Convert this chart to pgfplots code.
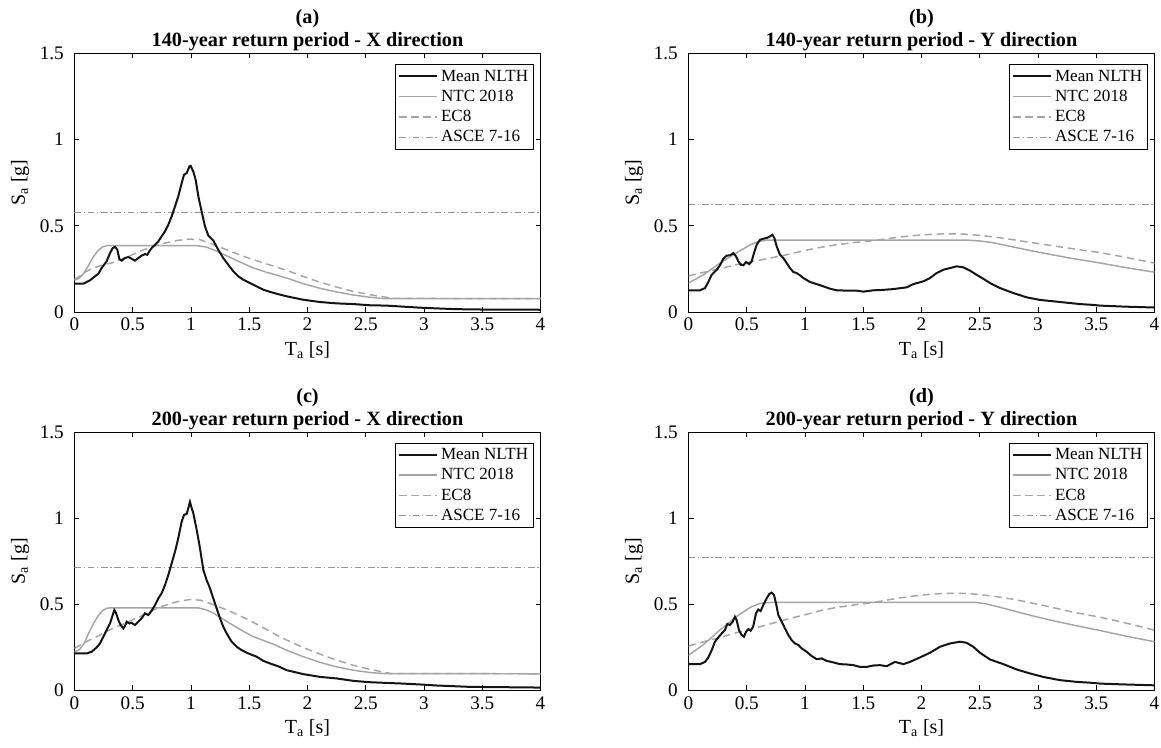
\documentclass[border=0pt]{standalone}
\usepackage{pgfplots}
\pgfplotsset{compat=1.18}
\usepgfplotslibrary{groupplots}
\usepackage{fontspec}
\setmainfont{Liberation Serif}
\definecolor{nlth}{RGB}{20,20,20}
\definecolor{ntc}{RGB}{165,165,165}
\definecolor{ecc}{RGB}{165,165,165}
\definecolor{asce}{RGB}{150,150,150}
\pgfplotsset{
  myax/.style={
    scale only axis, width=349.5pt, height=193.875pt,
    xmin=0, xmax=4, ymin=0, ymax=1.5,
    xtick={0,0.5,1,1.5,2,2.5,3,3.5,4}, ytick={0,0.5,1,1.5},
    tick align=inside, xtick pos=both, ytick pos=both,
    xticklabel pos=lower, yticklabel pos=left,
    major tick length=3.75pt,
    axis line style={line width=0.6pt, black},
    tick style={line width=0.6pt, black},
    /pgf/number format/assume math mode=true,
    every tick label/.append style={font=\fontsize{14.4}{16}\selectfont},
    yticklabel style={xshift=-4.5pt},
    xticklabel style={yshift=-1pt},
    label style={font=\fontsize{15}{17}\selectfont},
    xlabel style={yshift=-1pt},
    ylabel style={yshift=1pt},
    xlabel={T\textsubscript{a} [s]}, ylabel={S\textsubscript{a} [g]},
    title style={font=\bfseries\fontsize{15.2}{17.5}\selectfont, align=center, inner sep=0pt, yshift=-4.5pt},
    legend style={at={(1,1)}, anchor=north east, xshift=-5pt, yshift=-8pt,
      font=\fontsize{12.8}{15}\selectfont, draw=black, line width=0.6pt,
      cells={anchor=west}, inner sep=2pt, row sep=1.2pt},
    legend image code/.code={\draw[#1] (0cm,0cm) -- (1.0cm,0cm);},
    reverse legend,
  },
  nl/.style={color=nlth, line width=1.5pt, no markers},
  nt/.style={color=ntc, line width=1.1pt, no markers},
  ec/.style={color=ecc, line width=1.1pt, no markers, dash pattern=on 5.5pt off 3.5pt},
  as/.style={color=asce, line width=0.8pt, no markers, dash pattern=on 5pt off 2pt on 1pt off 2pt},
}
\begin{document}
\begin{tikzpicture}
\begin{groupplot}[group style={group size=2 by 2, horizontal sep=111pt, vertical sep=90pt}, myax]
% ---------------- (a)
\nextgroupplot[title={(a)\\140-year return period - X direction}]
\addplot[as] coordinates {(0,0.578) (4,0.578)};
\addplot[ec] coordinates {(0,0.19) (0.05,0.21) (0.1,0.235) (0.16,0.255) (0.25,0.274) (0.33,0.287) (0.45,0.318) (0.59,0.36) (0.73,0.393) (0.88,0.415) (0.99,0.423) (1.08,0.419) (1.19,0.392) (1.31,0.36) (1.48,0.316) (1.6,0.29) (1.7,0.268) (1.82,0.242) (1.96,0.207) (2.11,0.172) (2.25,0.145) (2.39,0.12) (2.54,0.10) (2.68,0.085) (2.72,0.079) (4,0.077)};
\addplot[nt] coordinates {(0,0.185) (0.04,0.195) (0.08,0.225) (0.12,0.27) (0.16,0.318) (0.2,0.355) (0.24,0.377) (0.28,0.385) (1.05,0.385) (1.13,0.377) (1.19,0.362) (1.3,0.328) (1.42,0.29) (1.53,0.257) (1.65,0.23) (1.72,0.217) (1.82,0.197) (1.96,0.165) (2.1,0.139) (2.25,0.116) (2.39,0.099) (2.53,0.086) (2.65,0.078) (2.7,0.077) (4,0.077)};
\addplot[nl] coordinates {(0,0.164) (0.076,0.164) (0.133,0.184) (0.176,0.207) (0.205,0.222) (0.233,0.255) (0.276,0.294) (0.305,0.342) (0.328,0.371) (0.348,0.378) (0.368,0.361) (0.385,0.307) (0.405,0.298) (0.433,0.313) (0.462,0.319) (0.49,0.309) (0.519,0.298) (0.548,0.313) (0.576,0.327) (0.605,0.336) (0.625,0.332) (0.642,0.352) (0.662,0.371) (0.691,0.39) (0.72,0.41) (0.748,0.439) (0.777,0.468) (0.805,0.506) (0.834,0.555) (0.863,0.613) (0.891,0.671) (0.92,0.748) (0.94,0.796) (0.963,0.806) (0.986,0.844) (0.997,0.848) (1.02,0.815) (1.04,0.767) (1.063,0.671) (1.091,0.584) (1.12,0.497) (1.149,0.443) (1.191,0.415) (1.234,0.361) (1.277,0.313) (1.32,0.274) (1.363,0.236) (1.406,0.207) (1.449,0.187) (1.506,0.168) (1.563,0.149) (1.621,0.129) (1.678,0.117) (1.75,0.103) (1.821,0.091) (1.964,0.071) (2.107,0.058) (2.25,0.050) (2.393,0.046) (2.536,0.039) (2.679,0.037) (2.823,0.031) (2.966,0.025) (3.109,0.021) (3.252,0.017) (3.395,0.015) (3.566,0.014) (4,0.013)};
\legend{ASCE 7-16, EC8, NTC 2018, Mean NLTH}
% ---------------- (b)
\nextgroupplot[title={(b)\\140-year return period - Y direction}]
\addplot[as] coordinates {(0,0.622) (4,0.622)};
\addplot[ec] coordinates {(0,0.21) (0.13,0.23) (0.27,0.251) (0.41,0.274) (0.56,0.294) (0.7,0.313) (0.84,0.332) (0.99,0.356) (1.13,0.375) (1.27,0.39) (1.42,0.403) (1.56,0.412) (1.69,0.424) (1.79,0.433) (1.93,0.443) (2.07,0.45) (2.22,0.454) (2.36,0.452) (2.5,0.445) (2.65,0.433) (2.79,0.419) (2.93,0.404) (3.07,0.39) (3.22,0.375) (3.36,0.361) (3.53,0.345) (3.7,0.324) (3.85,0.304) (4,0.284)};
\addplot[nt] coordinates {(0,0.168) (0.13,0.216) (0.27,0.284) (0.41,0.342) (0.53,0.39) (0.61,0.411) (0.68,0.417) (2.4,0.417) (2.5,0.412) (2.6,0.404) (2.79,0.377) (2.96,0.353) (3.13,0.331) (3.3,0.31) (3.52,0.286) (3.75,0.258) (4,0.231)};
\addplot[nl] coordinates {(0,0.126) (0.099,0.126) (0.142,0.139) (0.17,0.174) (0.199,0.216) (0.242,0.245) (0.27,0.271) (0.299,0.309) (0.328,0.327) (0.356,0.329) (0.385,0.342) (0.408,0.323) (0.428,0.294) (0.448,0.274) (0.471,0.271) (0.494,0.29) (0.522,0.278) (0.542,0.294) (0.562,0.342) (0.585,0.39) (0.614,0.419) (0.642,0.425) (0.671,0.429) (0.7,0.439) (0.72,0.448) (0.737,0.429) (0.757,0.381) (0.785,0.332) (0.814,0.313) (0.843,0.284) (0.871,0.255) (0.9,0.232) (0.928,0.226) (0.957,0.213) (0.986,0.197) (1.043,0.174) (1.1,0.162) (1.157,0.149) (1.215,0.135) (1.272,0.126) (1.358,0.124) (1.444,0.124) (1.5,0.118) (1.587,0.126) (1.644,0.127) (1.758,0.133) (1.873,0.143) (1.93,0.162) (2.016,0.178) (2.073,0.197) (2.13,0.226) (2.187,0.245) (2.245,0.255) (2.302,0.265) (2.359,0.259) (2.416,0.24) (2.473,0.216) (2.53,0.193) (2.588,0.168) (2.674,0.139) (2.788,0.11) (2.903,0.085) (3.017,0.07) (3.132,0.062) (3.246,0.054) (3.36,0.046) (3.475,0.041) (3.533,0.037) (3.75,0.031) (4,0.026)};
\legend{ASCE 7-16, EC8, NTC 2018, Mean NLTH}
% ---------------- (c)
\nextgroupplot[title={(c)\\200-year return period - X direction}]
\addplot[as] coordinates {(0,0.715) (4,0.715)};
\addplot[ec] coordinates {(0,0.244) (0.1,0.283) (0.19,0.312) (0.3,0.351) (0.45,0.395) (0.59,0.438) (0.73,0.484) (0.88,0.515) (0.99,0.528) (1.08,0.524) (1.16,0.506) (1.31,0.467) (1.48,0.415) (1.6,0.372) (1.7,0.334) (1.82,0.293) (1.96,0.25) (2.11,0.211) (2.25,0.176) (2.39,0.147) (2.54,0.122) (2.68,0.103) (2.72,0.098) (4,0.097)};
\addplot[nt] coordinates {(0,0.225) (0.04,0.235) (0.08,0.27) (0.12,0.33) (0.16,0.385) (0.2,0.43) (0.24,0.463) (0.28,0.478) (0.32,0.48) (1.06,0.48) (1.13,0.468) (1.19,0.45) (1.31,0.4) (1.42,0.355) (1.53,0.314) (1.65,0.283) (1.72,0.265) (1.82,0.234) (1.96,0.197) (2.11,0.163) (2.25,0.137) (2.39,0.118) (2.54,0.104) (2.66,0.098) (4,0.097)};
\addplot[nl] coordinates {(0,0.215) (0.104,0.215) (0.147,0.225) (0.19,0.25) (0.219,0.273) (0.247,0.312) (0.276,0.351) (0.305,0.389) (0.328,0.438) (0.342,0.467) (0.356,0.451) (0.376,0.409) (0.396,0.38) (0.419,0.36) (0.433,0.374) (0.448,0.399) (0.471,0.389) (0.49,0.393) (0.519,0.38) (0.548,0.399) (0.576,0.419) (0.605,0.448) (0.634,0.438) (0.662,0.463) (0.691,0.496) (0.72,0.535) (0.748,0.564) (0.777,0.612) (0.805,0.67) (0.834,0.738) (0.863,0.806) (0.891,0.884) (0.92,0.98) (0.94,1.019) (0.963,1.025) (0.977,1.058) (0.991,1.095) (1.006,1.058) (1.02,1.029) (1.049,0.932) (1.077,0.826) (1.106,0.7) (1.134,0.641) (1.163,0.593) (1.191,0.535) (1.22,0.477) (1.249,0.419) (1.277,0.37) (1.306,0.331) (1.349,0.283) (1.392,0.254) (1.435,0.234) (1.492,0.215) (1.564,0.196) (1.621,0.172) (1.678,0.157) (1.75,0.14) (1.821,0.118) (1.964,0.095) (2.107,0.079) (2.25,0.07) (2.393,0.056) (2.536,0.048) (2.679,0.044) (2.823,0.04) (2.966,0.035) (3.109,0.029) (3.252,0.025) (3.395,0.021) (3.566,0.02) (4,0.017)};
\legend{ASCE 7-16, EC8, NTC 2018, Mean NLTH}
% ---------------- (d)
\nextgroupplot[title={(d)\\200-year return period - Y direction}]
\addplot[as] coordinates {(0,0.773) (4,0.773)};
\addplot[ec] coordinates {(0,0.258) (0.13,0.283) (0.27,0.308) (0.41,0.335) (0.56,0.36) (0.7,0.386) (0.84,0.413) (0.99,0.438) (1.13,0.463) (1.27,0.482) (1.42,0.496) (1.56,0.508) (1.69,0.523) (1.79,0.535) (1.93,0.548) (2.07,0.558) (2.22,0.564) (2.36,0.564) (2.5,0.557) (2.65,0.544) (2.79,0.529) (2.93,0.51) (3.07,0.49) (3.22,0.467) (3.36,0.447) (3.52,0.427) (3.7,0.4) (3.85,0.376) (4,0.35)};
\addplot[nt] coordinates {(0,0.205) (0.13,0.267) (0.27,0.351) (0.41,0.428) (0.53,0.482) (0.61,0.505) (0.7,0.511) (2.47,0.511) (2.55,0.503) (2.62,0.492) (2.79,0.462) (2.96,0.432) (3.13,0.405) (3.3,0.38) (3.52,0.35) (3.75,0.316) (4,0.283)};
\addplot[nl] coordinates {(0,0.153) (0.099,0.153) (0.142,0.166) (0.17,0.192) (0.199,0.234) (0.227,0.283) (0.256,0.308) (0.285,0.331) (0.313,0.351) (0.333,0.386) (0.356,0.38) (0.379,0.399) (0.399,0.428) (0.413,0.409) (0.433,0.351) (0.456,0.322) (0.476,0.312) (0.494,0.341) (0.514,0.356) (0.534,0.347) (0.556,0.373) (0.579,0.447) (0.599,0.47) (0.619,0.461) (0.642,0.496) (0.671,0.535) (0.694,0.56) (0.714,0.568) (0.734,0.554) (0.751,0.506) (0.771,0.438) (0.8,0.399) (0.828,0.36) (0.857,0.322) (0.886,0.292) (0.914,0.273) (0.943,0.264) (0.971,0.244) (1.014,0.225) (1.057,0.2) (1.1,0.182) (1.143,0.186) (1.186,0.172) (1.243,0.163) (1.3,0.153) (1.358,0.151) (1.415,0.147) (1.472,0.137) (1.53,0.137) (1.587,0.145) (1.644,0.147) (1.701,0.141) (1.773,0.166) (1.844,0.153) (1.901,0.166) (1.987,0.192) (2.073,0.219) (2.159,0.254) (2.245,0.273) (2.33,0.283) (2.387,0.277) (2.444,0.254) (2.502,0.219) (2.588,0.18) (2.702,0.153) (2.817,0.122) (2.931,0.099) (3.044,0.079) (3.189,0.06) (3.332,0.05) (3.475,0.044) (3.533,0.04) (3.75,0.035) (4,0.03)};
\legend{ASCE 7-16, EC8, NTC 2018, Mean NLTH}
\end{groupplot}
\pgfresetboundingbox
\path ([shift={(-55.875pt,40.125pt)}]group c1r1.north west) rectangle ([shift={(4.875pt,-42.4pt)}]group c2r2.south east);
\end{tikzpicture}
\end{document}
